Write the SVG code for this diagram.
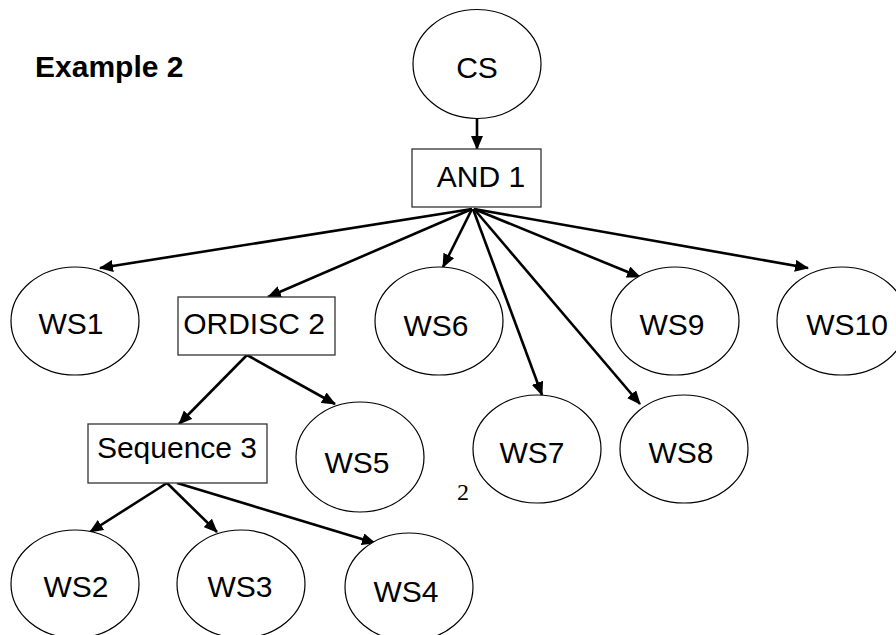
<svg xmlns="http://www.w3.org/2000/svg" width="896" height="635" viewBox="0 0 896 635">
<style>
.n{fill:#fff;stroke:#000;stroke-width:1.2}
.b{fill:#fff;stroke:#333;stroke-width:1.3}
.t{font-family:"Liberation Sans",Arial,sans-serif;font-size:30px;fill:#000;text-anchor:middle}
.c{fill:none;stroke:#000;stroke-width:2.6;marker-end:url(#ah)}
</style>
<defs>
<marker id="ah" markerUnits="userSpaceOnUse" markerWidth="14" markerHeight="12" refX="13" refY="6" orient="auto">
<path d="M0,0 L14,6 L0,12 z" fill="#000"/>
</marker>
</defs>
<text x="35" y="77" style="font-family:'Liberation Sans',Arial,sans-serif;font-size:30px;font-weight:bold">Example 2</text>
<g id="connectors">
<line class="c" x1="477" y1="119" x2="477" y2="149"/>
<line class="c" x1="472" y1="209" x2="100" y2="268"/>
<line class="c" x1="472" y1="209" x2="268" y2="297"/>
<line class="c" x1="472" y1="209" x2="443" y2="267"/>
<line class="c" x1="473" y1="209" x2="542" y2="395"/>
<line class="c" x1="474" y1="209" x2="640" y2="404"/>
<line class="c" x1="474" y1="209" x2="640" y2="277"/>
<line class="c" x1="474" y1="209" x2="808" y2="268"/>
<line class="c" x1="247" y1="355" x2="179" y2="424"/>
<line class="c" x1="247" y1="355" x2="335" y2="404"/>
<line class="c" x1="167" y1="483" x2="90" y2="532"/>
<line class="c" x1="167" y1="483" x2="217" y2="532"/>
<line class="c" x1="177" y1="483" x2="375" y2="543"/>
</g>
<g id="CS"><ellipse class="n" cx="477" cy="64" rx="64" ry="54.5"/><text class="t" x="477" y="78">CS</text></g>
<g id="AND1"><rect class="b" x="412" y="149" width="129" height="58"/><text class="t" x="481" y="187">AND 1</text></g>
<g id="WS1"><ellipse class="n" cx="75" cy="321" rx="64" ry="54"/><text class="t" x="71" y="334">WS1</text></g>
<g id="ORDISC2"><rect class="b" x="178" y="297" width="157" height="58"/><text class="t" x="254" y="334">ORDISC 2</text></g>
<g id="WS6"><ellipse class="n" cx="439" cy="321" rx="64" ry="54"/><text class="t" x="436" y="336">WS6</text></g>
<g id="WS9"><ellipse class="n" cx="675" cy="321" rx="64" ry="54"/><text class="t" x="672" y="335">WS9</text></g>
<g id="WS10"><ellipse class="n" cx="842" cy="321" rx="65" ry="54"/><text class="t" x="847" y="335">WS10</text></g>
<g id="Sequence3"><rect class="b" x="88" y="424" width="179" height="59"/><text class="t" x="177" y="458">Sequence 3</text></g>
<g id="WS5"><ellipse class="n" cx="360" cy="457" rx="64" ry="55"/><text class="t" x="357" y="473">WS5</text></g>
<g id="WS7"><ellipse class="n" cx="537" cy="449" rx="64" ry="54"/><text class="t" x="532" y="463">WS7</text></g>
<g id="WS8"><ellipse class="n" cx="684" cy="449" rx="64" ry="54"/><text class="t" x="681" y="463">WS8</text></g>
<text x="463" y="500" style="font-family:'Liberation Serif','Times New Roman',serif;font-size:24px;text-anchor:middle">2</text>
<g id="WS2"><ellipse class="n" cx="75" cy="584" rx="64" ry="54"/><text class="t" x="76" y="597">WS2</text></g>
<g id="WS3"><ellipse class="n" cx="241" cy="584" rx="64" ry="54"/><text class="t" x="240" y="597">WS3</text></g>
<g id="WS4"><ellipse class="n" cx="409" cy="587" rx="64" ry="54"/><text class="t" x="406" y="602">WS4</text></g>
</svg>
